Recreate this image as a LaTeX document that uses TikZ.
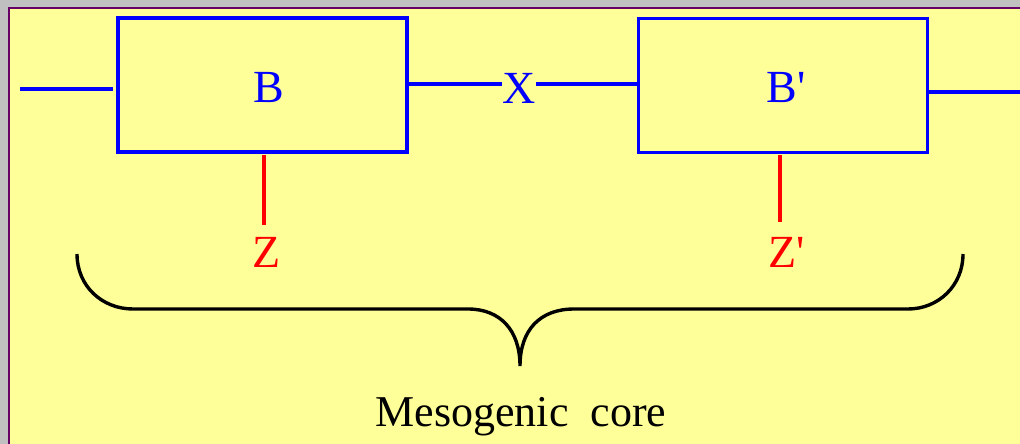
\documentclass[tikz,border=0pt]{standalone}
\usepackage{fontspec}
\setmainfont{Liberation Serif}
\definecolor{bgyellow}{RGB}{255,255,153}
\definecolor{framepurple}{RGB}{102,0,102}
\definecolor{framegray}{RGB}{192,192,192}
\definecolor{lblue}{RGB}{0,0,255}
\definecolor{lred}{RGB}{255,0,0}
\begin{document}
\begin{tikzpicture}[x=1pt,y=-1pt,
  blk/.style={draw=lblue,line width=3.4pt,minimum width=289pt,minimum height=134pt,inner sep=0pt},
  bluelink/.style={draw=lblue,line width=3.4pt},
  redlink/.style={draw=lred,line width=3.2pt},
  redlbl/.style={text=lred,font=\fontsize{46}{50}\selectfont,inner sep=0pt},
  bluelbl/.style={text=lblue,font=\fontsize{46}{50}\selectfont,inner sep=0pt},
  bracestyle/.style={draw=black,line width=3.4pt}]
\useasboundingbox (0,0) rectangle (1020,444);
\fill[framegray] (0,0) rectangle (1020,444);
\fill[bgyellow] (9,8) rectangle (1020,444);
\draw[framepurple,line width=2pt] (9,444) -- (9,8) -- (1020,8);
% boxes
\node[blk] (B) at (262.5,85) {};
\node[blk] (Bp) at (783,85.5) {};
\node[bluelbl] (Btext) at (269,88) {B};
\node[bluelbl] (Bptext) at (786,88) {B\textquotesingle};
\node[bluelbl] (X) at (519,88) {X};
% free ends
\coordinate (lend) at (20,89);
\coordinate (lstart) at (113,89);
\coordinate (rstart) at (927,92);
\coordinate (rend) at (1020,92);
\draw[bluelink] (lend) -- (lstart);
\draw[bluelink] (rstart) -- (rend);
\draw[bluelink] (B.east |- 0,84) -- (X.west |- 0,84);
\draw[bluelink] (X.east |- 0,84) -- (Bp.west |- 0,84);
% Z labels
\node[redlbl] (Z) at (267,252) {Z};
\node[redlbl] (Zp) at (787,252) {Z\textquotesingle};
\coordinate (zt) at (264,155);
\coordinate (zb) at (264,225);
\coordinate (zpt) at (780,155);
\coordinate (zpb) at (780,222);
\draw[redlink] (zt) -- (zb);
\draw[redlink] (zpt) -- (zpb);
% brace
\coordinate (bl) at (77,254);
\coordinate (tip) at (520,366);
\coordinate (br) at (963,254);
\draw[bracestyle] (bl) .. controls (77,286) and (102,309) .. (133,309)
  -- (468,309) .. controls (500,309) and (520,330) .. (tip)
  .. controls (520,330) and (540,309) .. (574,309)
  -- (908,309) .. controls (938,309) and (963,286) .. (br);
\node[font=\fontsize{44}{48}\selectfont,inner sep=0pt] (core) at (521,417) {Mesogenic\ \ core};
\end{tikzpicture}
\end{document}
